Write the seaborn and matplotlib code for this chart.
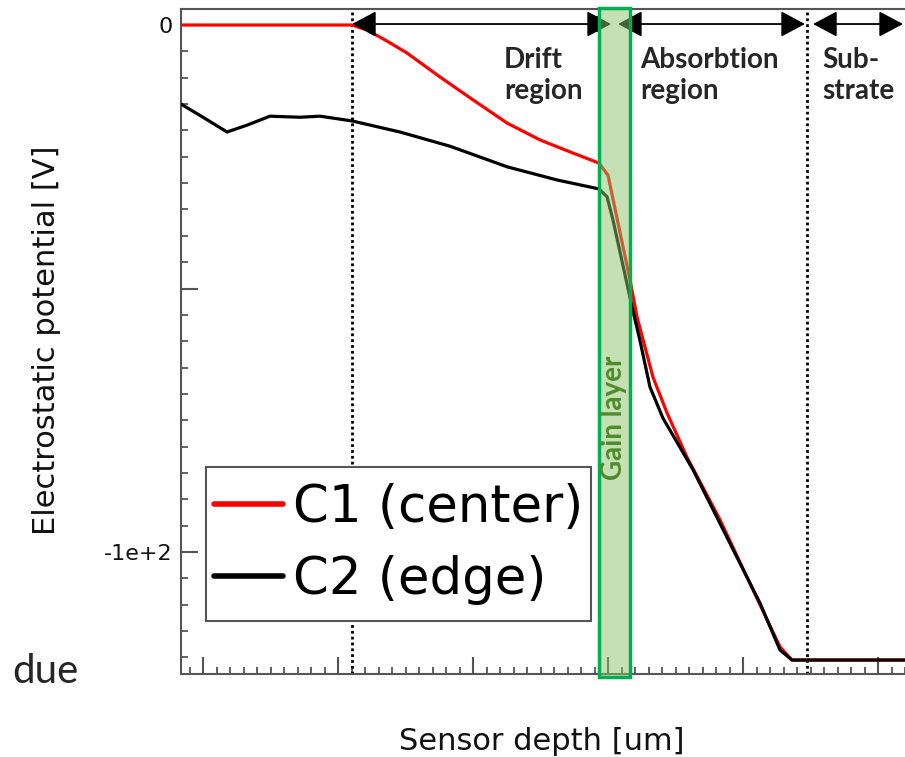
import numpy as np
import pandas as pd
import matplotlib
matplotlib.use("Agg")
import matplotlib.pyplot as plt
from matplotlib.path import Path
import seaborn as sns

# ---- data ----
c1_x = [-1.5, 11.04, 12.15, 13.6, 15.11, 17.56, 20.0, 22.52, 24.96, 27.41, 29.33, 30.0,
        31.63, 32.15, 33.33, 34.37, 35.85, 38.30, 40.74, 42.74, 43.63, 53.5]
c1_y = [0.0, 0.0, -0.95, -3.0, -5.31, -9.87, -14.2, -18.6, -21.8, -24.3, -26.2, -28.5,
        -48.4, -55.4, -66.8, -73.6, -82.0, -93.9, -107.2, -118.0, -120.5, -120.5]
c2_x = [-1.63, 0.0, 1.78, 3.26, 4.96, 7.19, 8.67, 11.04, 14.59, 18.30, 22.52, 26.22,
        29.33, 29.93, 30.37, 31.78, 32.37, 33.11, 34.07, 36.30, 38.81, 41.26,
        42.74, 43.63, 53.5]
c2_y = [-15.0, -17.5, -20.3, -19.0, -17.3, -17.5, -17.3, -18.2, -20.3, -23.0, -26.9,
        -29.4, -31.1, -32.6, -37.0, -53.5, -59.9, -68.7, -74.6, -84.4, -97.2,
        -109.7, -118.6, -120.5, -120.5]
series_names = ["C1 (center)", "C2 (edge)"]
series_colors = ["#ff0000", "#000000"]

region_bounds = [11.04, 44.74]          # dotted boundaries
gain_layer = [29.33, 31.63]              # gain layer span
region_labels = ["Drift\nregion", "Absorbtion\nregion", "Sub-\nstrate"]
region_label_x = [22.3, 32.4, 45.9]
arrows = [(11.04, 30.22), (30.74, 44.59), (45.19, 51.85)]
gain_bars = [29.19, 31.85]
y_ticks = [0, -50, -100]
y_ticklabels = ["0", "", "-1e+2"]
x_major = [0, 10, 20, 30, 40, 50]

df = pd.concat([
    pd.DataFrame({"depth": c1_x, "potential": c1_y, "curve": series_names[0]}),
    pd.DataFrame({"depth": c2_x, "potential": c2_y, "curve": series_names[1]}),
])

sns.set_style("ticks")
plt.rcParams["font.family"] = ["DejaVu Sans"]

fig = plt.figure(figsize=(9.05, 7.57), dpi=100)
ax = fig.add_axes([181 / 905, 1 - 674 / 757, (930 - 181) / 905, (674 - 9) / 757])

sns.lineplot(data=df, x="depth", y="potential", hue="curve", hue_order=series_names,
             palette=series_colors, linewidth=2.3, ax=ax, sort=False,
             estimator=None, legend=False, zorder=3)

ax.set_xlim(-1.63, (930 - 203) / 13.5)
ax.set_ylim(-123.15, 3.04)

# dotted boundaries
for xb in region_bounds:
    ax.axvline(xb, color="black", lw=2.0, linestyle=(0, (1, 1.1)), zorder=2)

# arrows
for (xa, xb) in arrows:
    ax.annotate("", xy=(xb, 0.19), xytext=(xa, 0.19),
                arrowprops=dict(arrowstyle="<|-|>,head_length=0.75,head_width=0.4",
                                color="black", lw=1.3, mutation_scale=20,
                                shrinkA=0, shrinkB=0), zorder=4)
for xg in gain_bars:
    ax.plot([xg, xg], [1.5, -1.2], color="black", lw=1.5, zorder=4)

# region labels
for lab, lx in zip(region_labels, region_label_x):
    ax.text(lx, -4.2, lab, ha="left", va="top", fontsize=20, fontweight="bold",
            family=["Lato", "DejaVu Sans"], linespacing=1.25, zorder=5)

# gain layer box
ax.axvspan(gain_layer[0], gain_layer[1], ymin=-0.005, ymax=1.002,
           facecolor=(0.55, 0.76, 0.42, 0.5), edgecolor="#00b050", lw=2.5,
           clip_on=False, zorder=6)
ax.text(np.mean(gain_layer), -74.6, "Gain layer", rotation=90, ha="center", va="center",
        color="#4f8a2b", fontsize=20, fontweight="bold", family=["Lato", "DejaVu Sans"],
        zorder=7)

# ticks
ax.set_yticks(y_ticks)
ax.set_yticklabels(y_ticklabels)
ax.set_yticks(np.arange(-120, 5, 5), minor=True)
ax.set_xticks(x_major)
ax.set_xticklabels([])
ax.set_xticks(np.arange(-1, 54, 1), minor=True)
ax.tick_params(axis="both", which="major", direction="in", length=12, width=1.5,
               color="#555555", labelsize=16, labelcolor="#111111", pad=6)
ax.tick_params(axis="both", which="minor", direction="in", length=5, width=1.3,
               color="#555555")
ax.tick_params(axis="x", which="both", top=False)
ax.tick_params(axis="y", which="both", right=False)
for s in ["left", "bottom", "top"]:
    ax.spines[s].set_color("#555555")
    ax.spines[s].set_linewidth(1.5)
ax.spines["right"].set_visible(False)

ax.set_xlabel("Sensor depth [um]", fontsize=22, color="#111111")
ax.set_ylabel("Electrostatic potential [V]", fontsize=22, color="#111111")
ax.xaxis.set_label_coords((542 - 181) / (930 - 181), (674 - 742) / (674 - 9))
ax.xaxis.label.set_va("center")
ax.yaxis.set_label_coords((47 - 181) / (930 - 181), (674 - 340) / (674 - 9))
ax.yaxis.label.set_va("center")

# legend
extra_v = 8  # extra vertical padding of the frame, pixels


def tall_box(x0, y0, width, height, mutation_size):
    x1, y1 = x0 + width, y0 + height
    return Path([(x0, y0 - extra_v), (x1, y0 - extra_v), (x1, y1 + extra_v),
                 (x0, y1 + extra_v), (x0, y0 - extra_v)], closed=True)


handles = [plt.Line2D([], [], color=c, lw=4) for c in series_colors]
leg = ax.legend(handles, series_names, loc="lower left",
                bbox_to_anchor=((206 - 181) / (930 - 181), (674 - 621 + extra_v) / (674 - 9)),
                fontsize=37, frameon=True, fancybox=False, framealpha=1,
                edgecolor="#555555", handlelength=1.35, handletextpad=0.2,
                borderpad=0.15, labelspacing=0.44, borderaxespad=0)
leg.get_frame().set_linewidth(1.5)
leg.get_frame().set_boxstyle(tall_box)
leg.set_zorder(5)
for t in leg.get_texts():
    t.set_color("#000000")

fig.text(12 / 905, 1 - 683 / 757, "due", fontsize=29, family=["Lato", "DejaVu Sans"],
         ha="left", va="baseline")

fig.savefig("out.png", dpi=100)
